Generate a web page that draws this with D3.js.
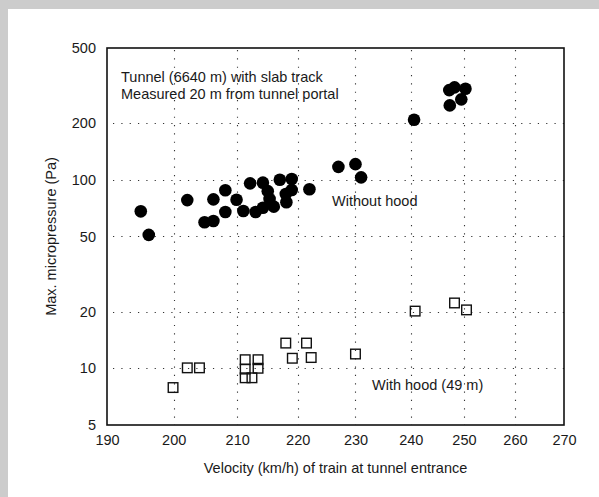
<!DOCTYPE html>
<html>
<head>
<meta charset="utf-8">
<script src="https://cdn.jsdelivr.net/npm/d3@7"></script>
<style>
  html, body { margin: 0; padding: 0; background: #cccccc; }
  svg { display: block; }
  text { font-family: "Liberation Sans", Arial, Helvetica, sans-serif; fill: #1a1a1a; }
</style>
</head>
<body>
<svg id="chart" width="599" height="497"></svg>
<script>
(function() {

    // data
    var withoutHoodSpeed = [195, 196.2, 202.1, 204.8, 206.2, 206.2, 208.1, 208.1, 209.9, 211, 212.1, 213,
        214.2, 214.2, 215, 215.3, 216, 217, 218, 218.1, 219, 219, 222, 227, 230, 231, 240.6,
        247.3, 247.2, 248.2, 250.3, 249.5];
    var withoutHoodPressure = [68, 51, 78, 59.5, 60.4, 78.7, 88, 67.5, 78.4, 68.3, 95.7, 67.5,
        96.5, 71, 87, 79, 72, 100, 84, 76, 101, 88.3, 89, 117, 121, 103, 208,
        248, 299, 309, 304, 267];

    var withHoodSpeed = [199.9, 202.1, 204, 211.3, 211.3, 211.3, 212.4, 213.4, 213.4, 218, 219.1,
        221.5, 222.3, 230, 240.8, 248.2, 250.5];
    var withHoodPressure = [7.9, 10.05, 10.05, 11.1, 9.9, 8.9, 8.9, 11.1, 10, 13.6, 11.3,
        13.6, 11.4, 11.9, 20.1, 22.2, 20.4];

    var xTicks = [190, 200, 210, 220, 230, 240, 250, 260, 270];
    var yTicks = [5, 10, 20, 50, 100, 200, 500];

    var notes = ["Tunnel (6640 m) with slab track", "Measured 20 m from tunnel portal"];

    var svg = d3.select("#chart");

    // white panel (gray shows only along top and left)
    svg.append("rect")
        .attr("x", 8).attr("y", 9)
        .attr("width", 599 - 8).attr("height", 497 - 9)
        .attr("fill", "#ffffff");

    var left = 107, top = 48, right = 564, bottom = 425;

    var x = d3.scaleLog().domain([190, 270]).range([left, right]);
    var y = d3.scaleLog().domain([5, 500]).range([bottom, top]);

    var grid = svg.append("g")
        .attr("stroke", "#333")
        .attr("stroke-width", 1.1)
        .attr("stroke-dasharray", "1.2,7.13");

    grid.selectAll("line.vx")
        .data(xTicks.slice(1, -1)).enter()
        .append("line")
        .attr("x1", function(d) { return Math.round(x(d)) + 0.5; })
        .attr("x2", function(d) { return Math.round(x(d)) + 0.5; })
        .attr("y1", top + 2)
        .attr("y2", bottom);

    grid.selectAll("line.hy")
        .data(yTicks.slice(1, -1)).enter()
        .append("line")
        .attr("y1", function(d) { return Math.round(y(d)) + 0.5; })
        .attr("y2", function(d) { return Math.round(y(d)) + 0.5; })
        .attr("x1", left + 6)
        .attr("x2", right);

    // axes (labels only, frame drawn separately)
    var xAxis = d3.axisBottom(x)
        .tickValues(xTicks)
        .tickFormat(d3.format("d"))
        .tickSize(0)
        .tickPadding(10);

    var yAxis = d3.axisLeft(y)
        .tickValues(yTicks)
        .tickFormat(d3.format("d"))
        .tickSize(0)
        .tickPadding(11);

    var gx = svg.append("g")
        .attr("transform", "translate(0," + bottom + ")")
        .call(xAxis);
    var gy = svg.append("g")
        .attr("transform", "translate(" + left + ",0)")
        .call(yAxis);

    [gx, gy].forEach(function(g) {
        g.select(".domain").remove();
        g.selectAll("text")
            .attr("font-family", "Liberation Sans, Arial, sans-serif")
            .attr("font-size", 14.5)
            .attr("fill", "#1a1a1a");
    });

    // frame
    svg.append("rect")
        .attr("x", left).attr("y", top)
        .attr("width", right - left).attr("height", bottom - top)
        .attr("fill", "none")
        .attr("stroke", "#111")
        .attr("stroke-width", 1.6);

    // without hood: filled circles
    svg.append("g").selectAll("circle")
        .data(withoutHoodSpeed).enter()
        .append("circle")
        .attr("cx", function(d) { return x(d); })
        .attr("cy", function(d, i) { return y(withoutHoodPressure[i]); })
        .attr("r", 6.3)
        .attr("fill", "#000");

    // with hood: open squares
    var sq = 9.6;
    svg.append("g").selectAll("rect")
        .data(withHoodSpeed).enter()
        .append("rect")
        .attr("x", function(d) { return x(d) - sq / 2; })
        .attr("y", function(d, i) { return y(withHoodPressure[i]) - sq / 2; })
        .attr("width", sq)
        .attr("height", sq)
        .attr("fill", "none")
        .attr("stroke", "#111")
        .attr("stroke-width", 1.4);

    // annotations
    svg.append("g").selectAll("text")
        .data(notes).enter()
        .append("text")
        .attr("x", 121)
        .attr("y", function(d, i) { return 82 + i * 17; })
        .attr("font-size", 14.5)
        .text(function(d) { return d; });

    svg.append("text")
        .attr("x", 332).attr("y", 206)
        .attr("font-size", 14.5)
        .text("Without hood");

    svg.append("text")
        .attr("x", 372).attr("y", 390)
        .attr("font-size", 14.5)
        .text("With hood (49 m)");

    // axis titles
    svg.append("text")
        .attr("x", (left + right) / 2)
        .attr("y", 473)
        .attr("text-anchor", "middle")
        .attr("font-size", 14.5)
        .text("Velocity (km/h) of train at tunnel entrance");

    svg.append("text")
        .attr("transform", "translate(56," + ((top + bottom) / 2) + ") rotate(-90)")
        .attr("text-anchor", "middle")
        .attr("font-size", 14.5)
        .text("Max. micropressure (Pa)");

})();
</script>
</body>
</html>
